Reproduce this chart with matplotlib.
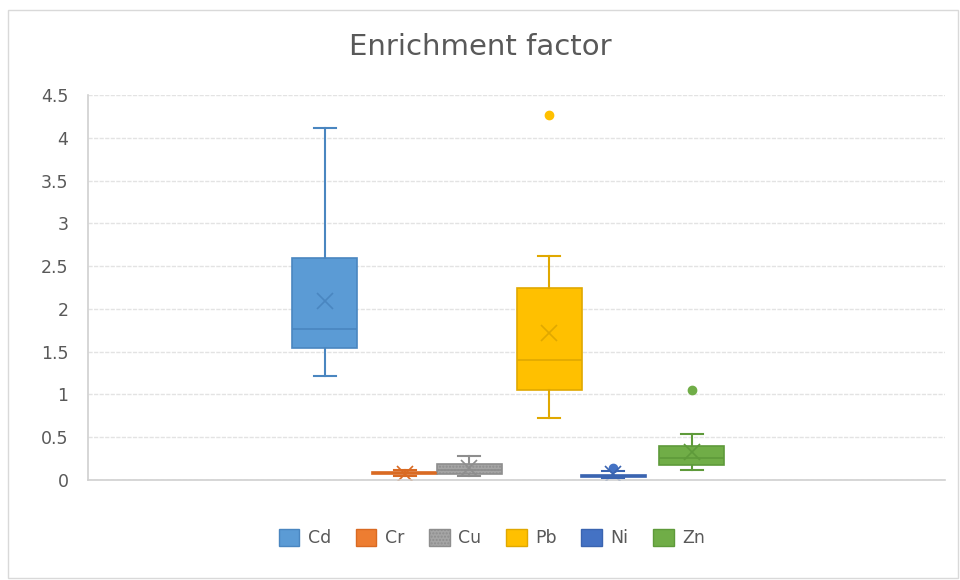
import matplotlib.pyplot as plt
from matplotlib.patches import Rectangle, Patch

# 各元素の箱ひげ図の値
labels = ["Cd", "Cr", "Cu", "Pb", "Ni", "Zn"]
whislo = [1.21, 0.05, 0.05, 0.72, 0.02, 0.12]
q1 = [1.54, 0.07, 0.07, 1.05, 0.04, 0.18]
med = [1.77, 0.08, 0.12, 1.40, 0.05, 0.26]
q3 = [2.59, 0.09, 0.19, 2.24, 0.06, 0.40]
whishi = [4.11, 0.12, 0.28, 2.62, 0.10, 0.54]
mean = [2.09, 0.075, 0.14, 1.72, 0.07, 0.33]
fliers = [[], [], [], [4.27], [0.14], [1.05]]

fill = ["#5B9BD5", "#ED7D31", "#A5A5A5", "#FFC000", "#4472C4", "#70AD47"]
edge = ["#4A86C0", "#D96A22", "#8E8E8E", "#E0A800", "#3A64B0", "#5E9A3A"]
positions = [325, 405, 469.5, 549.5, 613.5, 692]

fig = plt.figure(figsize=(9.6, 5.8), dpi=100)
ax = fig.add_axes([88 / 960, 1 - 480 / 580, (945 - 88) / 960, (480 - 95) / 580])

for i in range(len(labels)):
    stats = [dict(label=labels[i], whislo=whislo[i], q1=q1[i], med=med[i],
                  q3=q3[i], whishi=whishi[i], mean=mean[i], fliers=fliers[i])]
    ax.bxp(
        stats,
        positions=[positions[i]],
        widths=65,
        patch_artist=True,
        showmeans=True,
        manage_ticks=False,
        boxprops=dict(facecolor=fill[i], edgecolor=edge[i], linewidth=1.2,
                      hatch="....." if labels[i] == "Cu" else None),
        medianprops=dict(color=edge[i], linewidth=1.2),
        whiskerprops=dict(color=edge[i], linewidth=1.5),
        capprops=dict(color=edge[i], linewidth=1.5),
        capwidths=22,
        meanprops=dict(marker="x", markersize=12, markeredgecolor=edge[i],
                       markeredgewidth=1.2),
        flierprops=dict(marker="o", markersize=6, markerfacecolor=fill[i],
                        markeredgecolor=fill[i]),
    )

ax.set_xlim(88, 945)
ax.set_ylim(0, 4.5)
ax.set_yticks([0, 0.5, 1, 1.5, 2, 2.5, 3, 3.5, 4, 4.5])
ax.set_yticklabels(["0", "0.5", "1", "1.5", "2", "2.5", "3", "3.5", "4", "4.5"])
ax.set_xticks([])
ax.tick_params(axis="y", length=0, pad=14, labelsize=12.5, labelcolor="#595959")
ax.grid(axis="y", color="#E3E3E3", linewidth=1, linestyle=(0, (3, 1)))
ax.set_axisbelow(True)
for side in ["top", "right"]:
    ax.spines[side].set_visible(False)
ax.spines["left"].set_color("#D0D0D0")
ax.spines["bottom"].set_color("#D0D0D0")
ax.spines["left"].set_linewidth(1.2)
ax.spines["bottom"].set_linewidth(1.2)

fig.text(0.5, 1 - 47 / 580, "Enrichment factor", ha="center", va="center",
         fontsize=21, color="#595959")

handles = [Patch(facecolor=fill[i], edgecolor=edge[i],
                 hatch="....." if labels[i] == "Cu" else None)
           for i in range(len(labels))]
fig.legend(handles, labels, loc="center", bbox_to_anchor=(492 / 960, 1 - 538 / 580),
           ncol=6, frameon=False, fontsize=12.5, labelcolor="#595959",
           handlelength=1.2, handleheight=1.2, handletextpad=0.5, columnspacing=1.4)

# グラフ全体の枠線
fig.patches.append(Rectangle((8 / 960, 2 / 580), 950 / 960, 568 / 580,
                             transform=fig.transFigure, fill=False,
                             edgecolor="#D9D9D9", linewidth=1))

fig.savefig("out.png", dpi=100)
